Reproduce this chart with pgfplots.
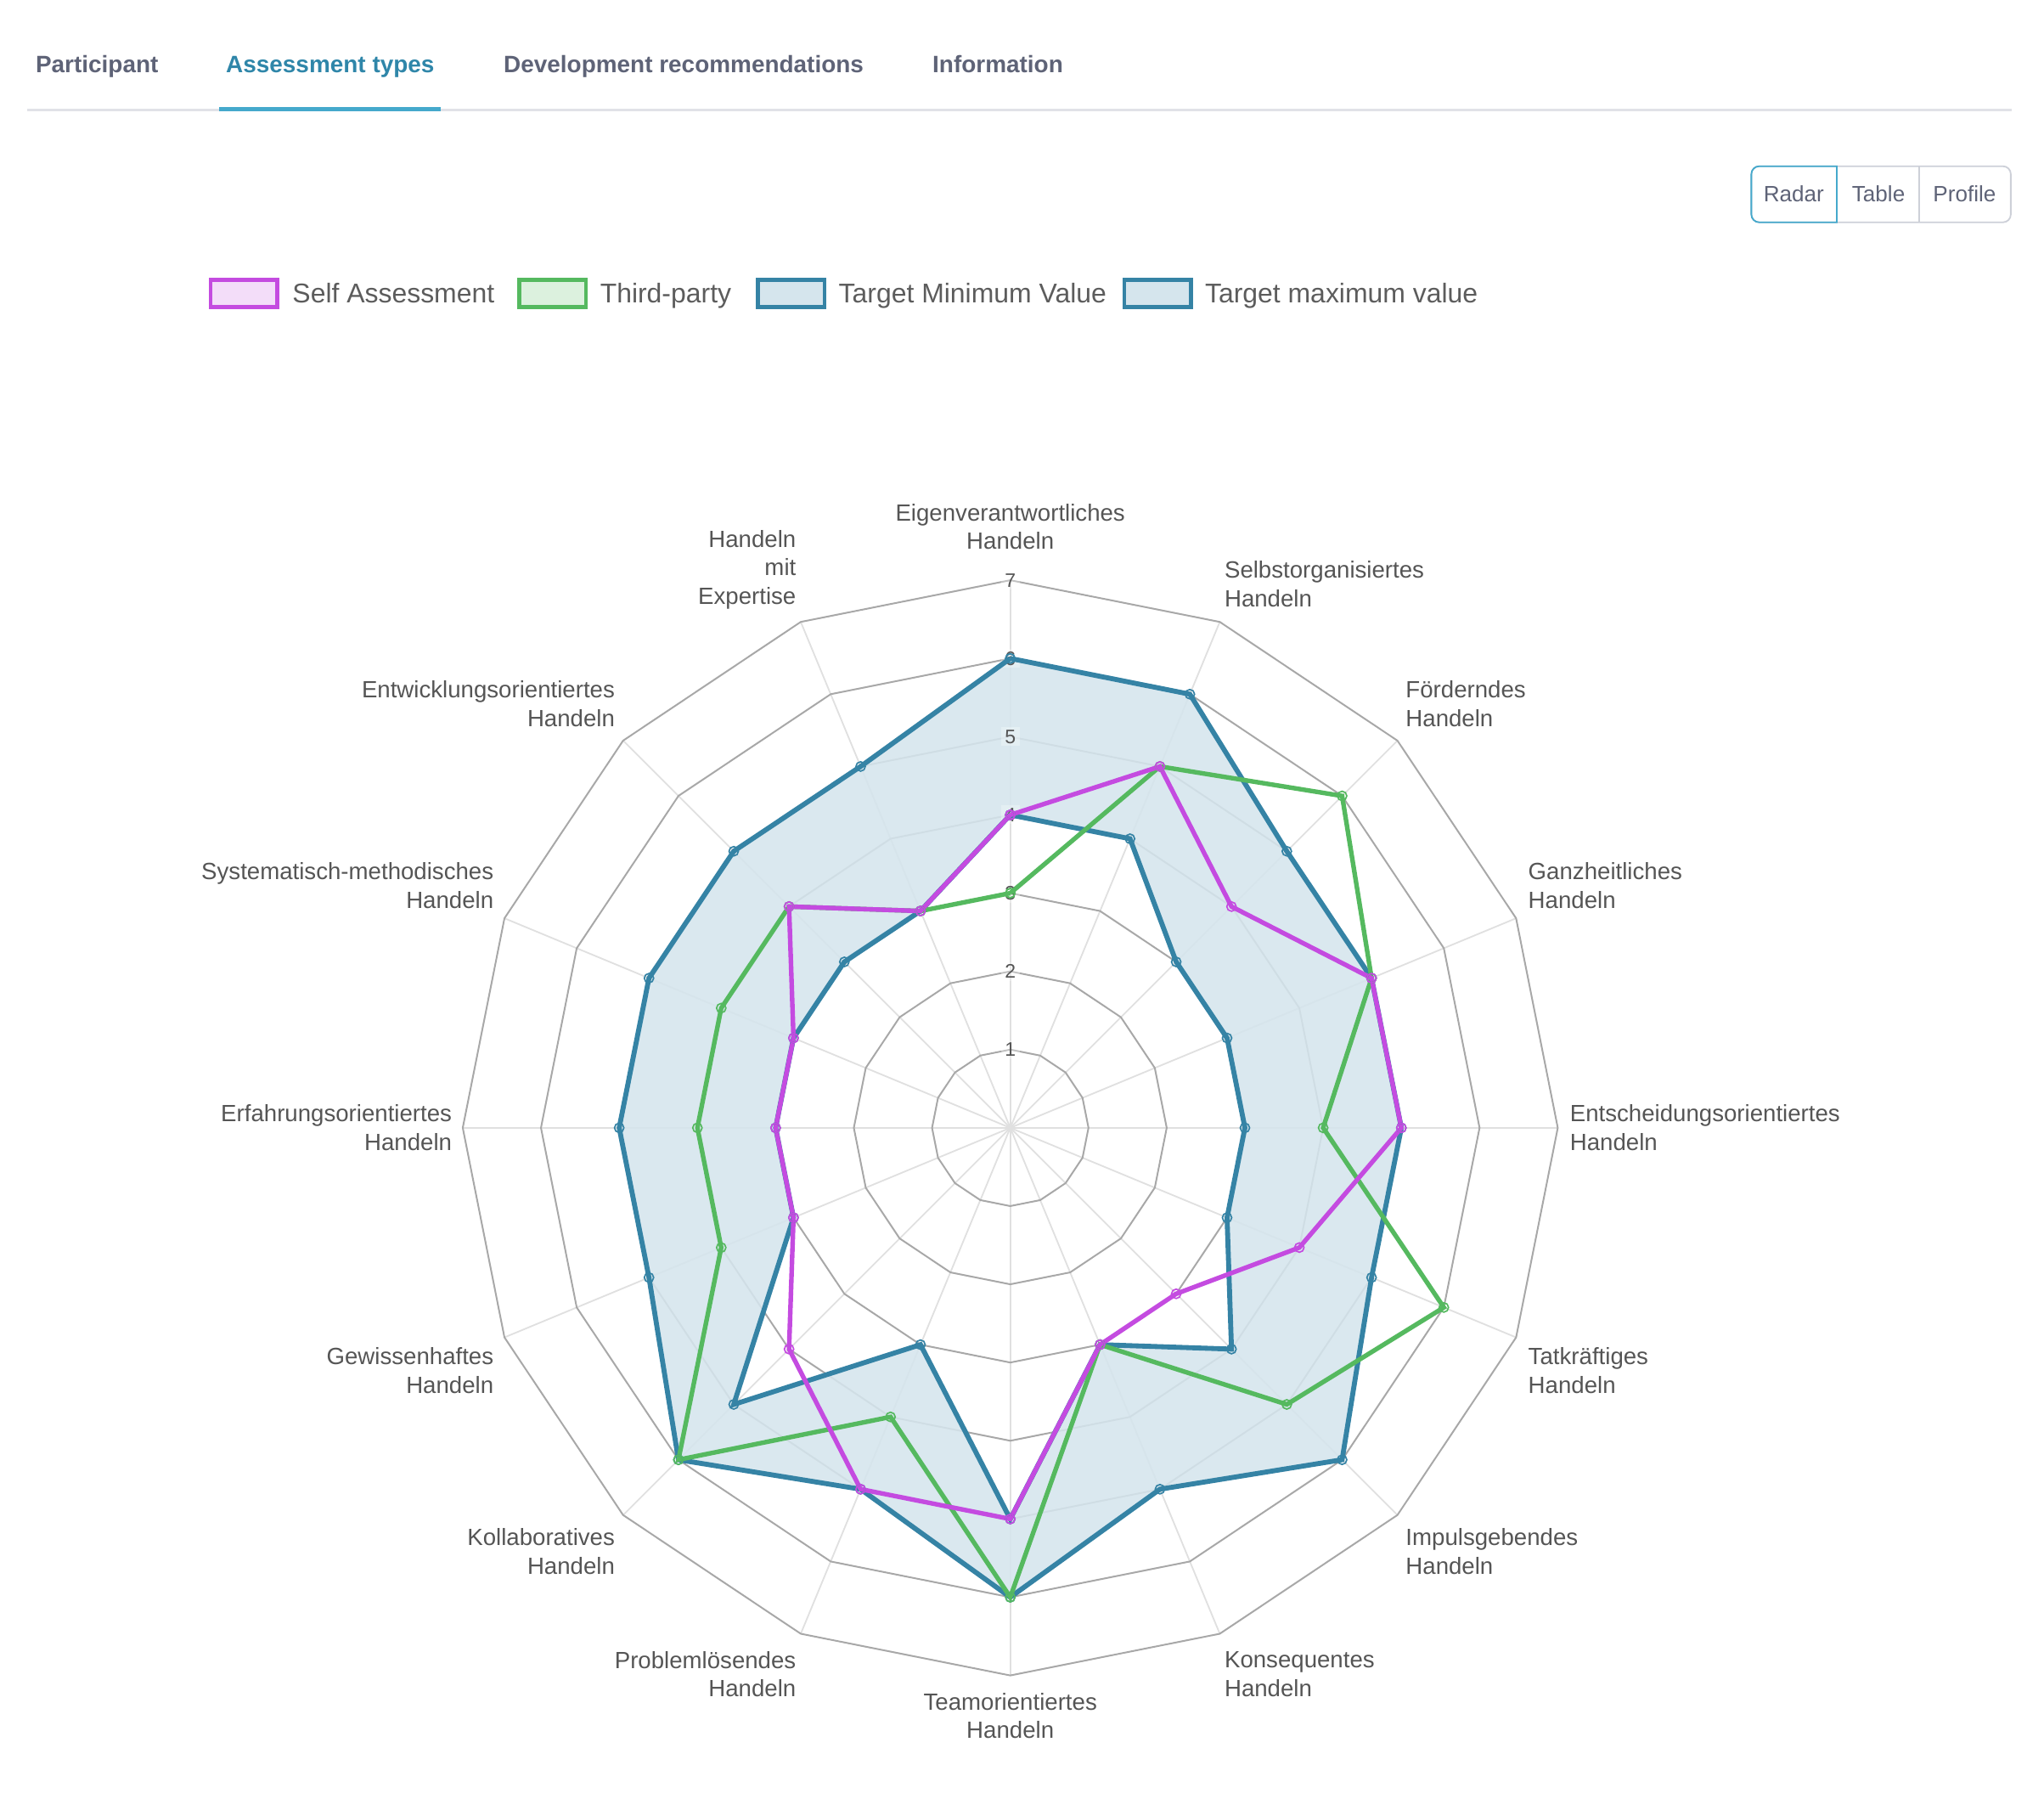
\documentclass[border=0pt]{standalone}
\usepackage{fontspec}
\setmainfont{Liberation Sans}
\usepackage{pgfplots}
\pgfplotsset{compat=1.18}
\usepackage{pgfplotstable}
\usepgfplotslibrary{polar}

\definecolor{cself}{HTML}{C44BE0}
\definecolor{cthird}{HTML}{55B95F}
\definecolor{ctarget}{HTML}{3583A5}
\definecolor{cfill}{HTML}{D5E5ED}
\definecolor{cselfL}{HTML}{F3DDF9}
\definecolor{cthirdL}{HTML}{DCF1DE}
\definecolor{ring}{HTML}{A8A8A8}
\definecolor{spoke}{HTML}{E0E0E0}
\definecolor{lbl}{HTML}{555555}
\definecolor{legtext}{HTML}{5C5C5C}
\definecolor{tabgray}{HTML}{5E6377}
\definecolor{tabact}{HTML}{2F86A9}
\definecolor{tabline}{HTML}{45A9CC}
\definecolor{sepc}{HTML}{E1E2E7}
\definecolor{btnborder}{HTML}{CDD0D8}

% angle (deg, counter-clockwise from east), values per competency
\pgfplotstableread{
angle self third tmin tmax
90    4 3 4 6
67.5  5 5 4 6
45    4 6 3 5
22.5  5 5 3 5
0     5 4 3 5
337.5 4 6 3 5
315   3 5 4 6
292.5 3 3 3 5
270   5 6 5 6
247.5 5 4 3 5
225   4 6 5 6
202.5 3 4 3 5
180   3 4 3 5
157.5 3 4 3 5
135   4 4 3 5
112.5 3 3 3 5
90    4 3 4 6
}\radardata

\begin{document}
\begin{tikzpicture}[x=0.5pt,y=-0.5pt]
\path[use as bounding box] (0,0) rectangle (1568,1375);

% ---- tabs ----
\begin{scope}[every node/.style={inner sep=0pt, anchor=base west, font=\bfseries\fontsize{9.1}{11}\selectfont}]
\node[text=tabgray] at (27,55.5) {Participant};
\node[text=tabact] at (173,55.5) {Assessment types};
\node[text=tabgray] at (386,55.5) {Development recommendations};
\node[text=tabgray] at (715,55.5) {Information};
\end{scope}
\draw[sepc, line width=0.8pt] (21,84.5) -- (1543,84.5);
\fill[tabline] (168,82) rectangle (338,85.5);

% ---- buttons ----
\draw[btnborder, line width=0.6pt, rounded corners=3pt] (1343.5,127.5) rectangle (1542.5,170.5);
\draw[btnborder, line width=0.6pt] (1472,127.5) -- (1472,170.5);
\draw[tabline, line width=0.6pt] (1409,127.5) [rounded corners=3pt]-- (1343.5,127.5) -- (1343.5,170.5) [sharp corners]-- (1409,170.5) -- cycle;
\begin{scope}[every node/.style={inner sep=0pt, anchor=base, font=\fontsize{8.5}{10}\selectfont, text=tabgray}]
\node at (1376,155) {Radar};
\node at (1441,155) {Table};
\node at (1507,155) {Profile};
\end{scope}

% ---- legend ----
\draw[cself, line width=1.5pt, fill=cselfL] (161.5,214.5) rectangle (212.5,235.5);
\draw[cthird, line width=1.5pt, fill=cthirdL] (398.5,214.5) rectangle (449.5,235.5);
\draw[ctarget, line width=1.5pt, fill=cfill] (581.5,214.5) rectangle (632.5,235.5);
\draw[ctarget, line width=1.5pt, fill=cfill] (862.5,214.5) rectangle (913.5,235.5);
\begin{scope}[every node/.style={inner sep=0pt, anchor=base west, font=\fontsize{10.4}{12}\selectfont, text=legtext}]
\node at (224,232.5) {Self Assessment};
\node at (460,232.5) {Third-party};
\node at (643,232.5) {Target Minimum Value};
\node at (924,232.5) {Target maximum value};
\end{scope}

% ---- radar ----
\begin{polaraxis}[
  at={(387.5pt,-432.5pt)}, anchor=center,
  width=420pt, height=420pt, scale only axis,
  xmin=0, xmax=360, ymin=0, ymax=7,
  hide axis, clip=false,
]
\pgfplotsinvokeforeach{0,22.5,45,67.5,90,112.5,135,157.5,180,202.5,225,247.5,270,292.5,315,337.5}{
  \draw[spoke, line width=0.6pt] (axis cs:0,0) -- (axis cs:#1,7);
}
\pgfplotsinvokeforeach{1,2,3,4,5,6,7}{
  \draw[ring, line width=0.65pt] (axis cs:0,#1) -- (axis cs:22.5,#1) -- (axis cs:45,#1) -- (axis cs:67.5,#1) -- (axis cs:90,#1) -- (axis cs:112.5,#1) -- (axis cs:135,#1) -- (axis cs:157.5,#1) -- (axis cs:180,#1) -- (axis cs:202.5,#1) -- (axis cs:225,#1) -- (axis cs:247.5,#1) -- (axis cs:270,#1) -- (axis cs:292.5,#1) -- (axis cs:315,#1) -- (axis cs:337.5,#1) -- cycle;
}
% band between target minimum and maximum
\addplot[draw=none, fill=cfill, fill opacity=0.88] coordinates {
 (90,6) (67.5,6) (45,5) (22.5,5) (0,5) (337.5,5) (315,6) (292.5,5) (270,6) (247.5,5) (225,6) (202.5,5) (180,5) (157.5,5) (135,5) (112.5,5) (90,6)
 (90,4) (112.5,3) (135,3) (157.5,3) (180,3) (202.5,3) (225,5) (247.5,3) (270,5) (292.5,3) (315,4) (337.5,3) (0,3) (22.5,3) (45,3) (67.5,4) (90,4) (90,6)};
\pgfplotsinvokeforeach{1,2,3,4,5,6,7}{
  \node[inner xsep=1.5pt, inner ysep=1pt, fill=white, fill opacity=0.3, text opacity=1, font=\fontsize{7.5}{8}\selectfont, text=lbl] at (axis cs:90,#1) {#1};
}
\addplot[ctarget, line width=1.9pt, mark=o, mark size=1.8pt, mark options={line width=0.55pt}] table[x=angle,y=tmax]{\radardata};
\addplot[ctarget, line width=1.9pt, mark=o, mark size=1.8pt, mark options={line width=0.55pt}] table[x=angle,y=tmin]{\radardata};
\addplot[cthird, line width=1.75pt, mark=o, mark size=1.8pt, mark options={line width=0.55pt}] table[x=angle,y=third]{\radardata};
\addplot[cself, line width=1.75pt, mark=o, mark size=1.8pt, mark options={line width=0.55pt}] table[x=angle,y=self]{\radardata};
\end{polaraxis}

% ---- category labels ----
\begin{scope}[every node/.style={inner sep=0pt, font=\fontsize{9}{11}\selectfont, text=lbl}]
\node[align=center] at (775,404) {Eigenverantwortliches\\Handeln};
\node[align=left, anchor=west] at (939,448) {Selbstorganisiertes\\Handeln};
\node[align=left, anchor=west] at (1078,540) {Förderndes\\Handeln};
\node[align=left, anchor=west] at (1172,679) {Ganzheitliches\\Handeln};
\node[align=left, anchor=west] at (1204,865) {Entscheidungsorientiertes\\Handeln};
\node[align=left, anchor=west] at (1172,1051) {Tatkräftiges\\Handeln};
\node[align=left, anchor=west] at (1078,1190) {Impulsgebendes\\Handeln};
\node[align=left, anchor=west] at (939,1284) {Konsequentes\\Handeln};
\node[align=center] at (775,1316) {Teamorientiertes\\Handeln};
\node[align=right, anchor=east] at (611,1284) {Problemlösendes\\Handeln};
\node[align=right, anchor=east] at (472,1190) {Kollaboratives\\Handeln};
\node[align=right, anchor=east] at (379,1051) {Gewissenhaftes\\Handeln};
\node[align=right, anchor=east] at (347,865) {Erfahrungsorientiertes\\Handeln};
\node[align=right, anchor=east] at (379,679) {Systematisch-methodisches\\Handeln};
\node[align=right, anchor=east] at (472,540) {Entwicklungsorientiertes\\Handeln};
\node[align=right, anchor=east] at (611,437) {Handeln\\mit\\Expertise};
\end{scope}
\end{tikzpicture}
\end{document}
